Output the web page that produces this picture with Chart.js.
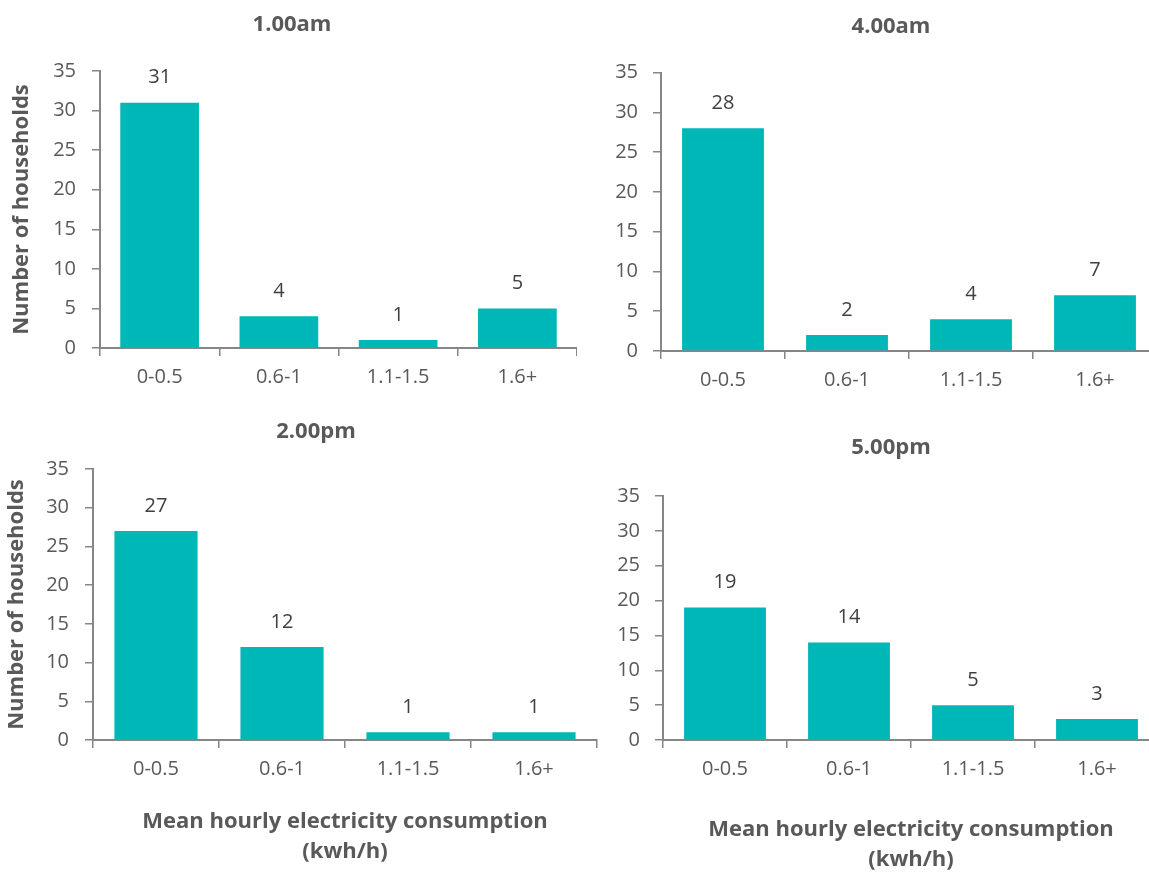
<!DOCTYPE html>
<html>
<head>
<meta charset="utf-8">
<script src="https://cdn.jsdelivr.net/npm/chart.js@4.4.1/dist/chart.umd.min.js"></script>
<style>
  html,body{margin:0;padding:0;background:#fff;width:1149px;height:872px;overflow:hidden;}
  canvas{position:absolute;}
</style>
</head>
<body>
<canvas id="c1" width="577" height="420" style="left:0;top:0"></canvas>
<canvas id="c2" width="622" height="420" style="left:580px;top:0"></canvas>
<canvas id="c3" width="632" height="472" style="left:0;top:400px"></canvas>
<canvas id="c4" width="622" height="480" style="left:580px;top:400px"></canvas>
<script>
// consumption bands (kwh/h)
const categories = ['0-0.5', '0.6-1', '1.1-1.5', '1.6+'];
// number of households per band
const households1am = [31, 4, 1, 5];
const households4am = [28, 2, 4, 7];
const households2pm = [27, 12, 1, 1];
const households5pm = [19, 14, 5, 3];
const yMax = 35, yStep = 5;

const FONT = '"Open Sans", "Noto Sans", sans-serif';
const TEXT = '#595959', AXIS = '#868686', BAR = '#00b7b8';
const $ = id => document.getElementById(id);

const valueLabels = {
  id: 'valueLabels',
  afterDatasetsDraw(chart){
    const ctx = chart.ctx, meta = chart.getDatasetMeta(0), data = chart.data.datasets[0].data;
    ctx.save();
    ctx.font = '20px ' + FONT; ctx.fillStyle = '#404040';
    ctx.textAlign = 'center'; ctx.textBaseline = 'middle';
    meta.data.forEach((bar, i) => ctx.fillText(String(data[i]), bar.x, bar.y - 25));
    ctx.restore();
  }
};

function makeChart(id, title, values, o){
  return new Chart($(id), {
    type: 'bar',
    data: { labels: categories, datasets: [{ data: values, backgroundColor: BAR, barPercentage: 0.66, categoryPercentage: 1 }] },
    plugins: [valueLabels],
    options: {
      responsive: false, animation: false, devicePixelRatio: 1,
      layout: { padding: { left: o.padL, right: 0, top: 0, bottom: 0 } },
      plugins: {
        legend: { display: false }, tooltip: { enabled: false },
        title: { display: true, text: title, color: TEXT, font: { family: FONT, size: 22, weight: 'bold', lineHeight: 1.2 }, padding: o.titlePad }
      },
      scales: {
        x: {
          afterFit: s => { s.height = o.xHeight; },
          grid: { offset: true, drawOnChartArea: false, drawTicks: true, tickLength: 8, color: AXIS, lineWidth: 1.5 },
          border: { display: true, color: AXIS, width: 2 },
          ticks: { color: TEXT, padding: 9, font: { family: FONT, size: 20 } },
          title: { display: !!o.xTitle, text: ['Mean hourly electricity consumption', '(kwh/h)'], color: TEXT, font: { family: FONT, size: 22, weight: 'bold', lineHeight: 1.364 }, padding: { top: 0, bottom: 5 } }
        },
        y: {
          min: 0, max: yMax,
          afterFit: s => { s.width = o.yWidth; },
          grid: { drawOnChartArea: false, drawTicks: true, tickLength: 8, color: AXIS, lineWidth: 1.5 },
          border: { display: true, color: AXIS, width: 2 },
          ticks: { stepSize: yStep, color: TEXT, padding: o.yTickPad, font: { family: FONT, size: 20 } },
          title: { display: !!o.yTitle, text: 'Number of households', color: TEXT, font: { family: FONT, size: 22, weight: 'bold', lineHeight: 1.2 }, padding: { top: o.yTitlePad || 0, bottom: 0 } }
        },
        // empty spacer on the right so the chart title sits where the original has it
        spacer: {
          type: 'linear', position: 'right', display: true,
          afterFit: s => { s.width = o.rightW || 0; },
          grid: { display: false }, border: { display: false }, ticks: { display: false }
        }
      }
    }
  });
}

makeChart('c1', '1.00am', households1am, { padL: 7, yWidth: 93, rightW: 0, xHeight: 72, yTickPad: 16, yTitle: true, yTitlePad: 1.8, titlePad: { top: 11.8, bottom: 32.8 } });
makeChart('c2', '4.00am', households4am, { padL: 0, yWidth: 81, rightW: 45, xHeight: 69, yTickPad: 15, titlePad: { top: 13.8, bottom: 32.3 } });
makeChart('c3', '2.00pm', households2pm, { padL: 0, yWidth: 93, rightW: 35, xHeight: 132, yTickPad: 16, yTitle: true, yTitlePad: 3.8, xTitle: true, titlePad: { top: 18.8, bottom: 23.8 } });
makeChart('c4', '5.00pm', households5pm, { padL: 0, yWidth: 83, rightW: 43, xHeight: 140, yTickPad: 15, xTitle: true, titlePad: { top: 34.8, bottom: 34.8 } });
</script>
</body>
</html>
